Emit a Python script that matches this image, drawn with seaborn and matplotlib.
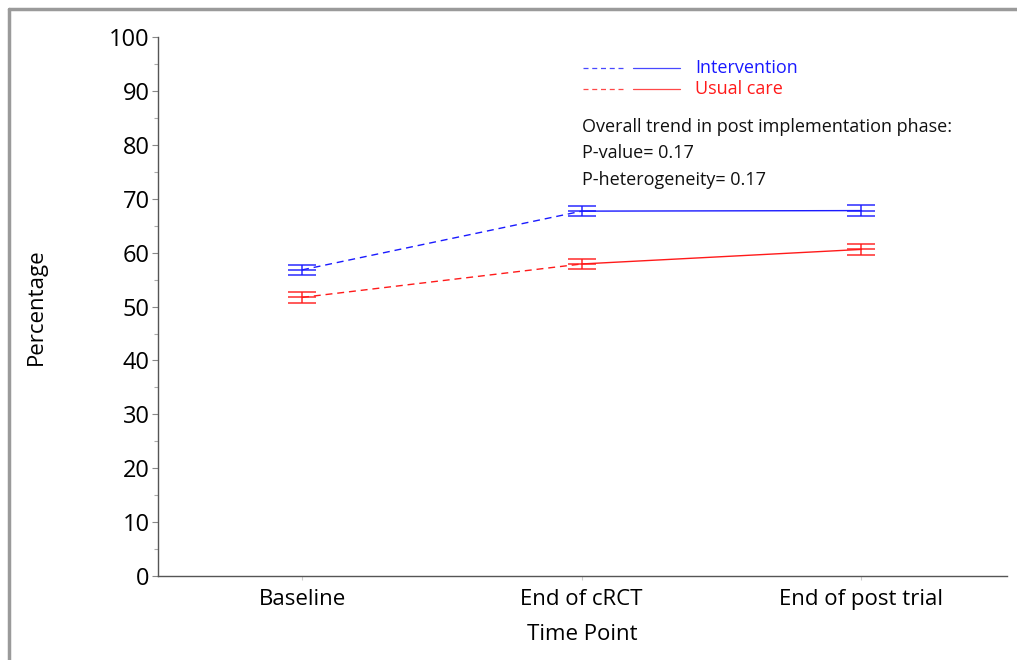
import matplotlib
matplotlib.use("Agg")
import matplotlib.pyplot as plt
from matplotlib.lines import Line2D
from matplotlib.ticker import MultipleLocator
import seaborn as sns
import pandas as pd

categories = ["Baseline", "End of cRCT", "End of post trial"]
intervention = [56.8, 67.7, 67.8]
intervention_err = [0.9, 0.95, 0.95]
usual_care = [51.7, 57.9, 60.6]
usual_care_err = [0.95, 0.95, 0.95]
yticks = [0, 10, 20, 30, 40, 50, 60, 70, 80, 90, 100]
annotation = ["Overall trend in post implementation phase:",
              "P-value= 0.17",
              "P-heterogeneity= 0.17"]

sns.set_theme(style="white")
plt.rcParams['font.family'] = ['Open Sans', 'DejaVu Sans']
plt.rcParams['text.color'] = 'black'
plt.rcParams['axes.labelcolor'] = 'black'
plt.rcParams['xtick.labelcolor'] = 'black'
plt.rcParams['ytick.labelcolor'] = 'black'

fig = plt.figure(figsize=(10.17, 6.6), dpi=100)
ax = fig.add_axes([0.1554, 0.127, 0.990 - 0.1554, 0.944 - 0.127])

blue = "#1a1aff"
red = "#ff1a1a"

rows = []
for name, vals in (("Intervention", intervention), ("Usual care", usual_care)):
    for i, v in enumerate(vals):
        rows.append({"series": name, "x": i, "y": v})
df = pd.DataFrame(rows)

for name, color, vals, errs in (("Intervention", blue, intervention, intervention_err),
                                ("Usual care", red, usual_care, usual_care_err)):
    d = df[df.series == name]
    seg1 = d[d.x <= 1]
    seg2 = d[d.x >= 1]
    sns.lineplot(data=seg1, x="x", y="y", ax=ax, color=color, lw=1.0,
                 linestyle=(0, (5, 3.5)), legend=False)
    sns.lineplot(data=seg2, x="x", y="y", ax=ax, color=color, lw=1.0,
                 legend=False)
    ax.errorbar(range(len(vals)), vals, yerr=errs, fmt='_', color=color,
                markersize=20, capsize=10, elinewidth=1.2, capthick=1.2,
                markeredgewidth=1.2, alpha=0.85)

ax.set_xlim(-0.515, 2.52)
ax.set_ylim(0, 100)
ax.set_xticks(range(len(categories)))
ax.set_xticklabels(categories)
ax.set_yticks(yticks)
ax.yaxis.set_minor_locator(MultipleLocator(5))
ax.tick_params(axis='y', which='major', length=4, width=0.8, color="#888888",
               labelsize=17, pad=2, left=True)
ax.tick_params(axis='y', which='minor', length=3, width=0.8, color="#aaaaaa", left=True)
ax.tick_params(axis='x', which='major', length=3, width=0.8, color="#cccccc",
               labelsize=16, pad=6, bottom=True)
for s in ("top", "right"):
    ax.spines[s].set_visible(False)
for s in ("left", "bottom"):
    ax.spines[s].set_color("#555555")
    ax.spines[s].set_linewidth(1.0)

ax.set_xlabel("Time Point", fontsize=16, labelpad=10)
ax.set_ylabel("Percentage", fontsize=16, labelpad=45)

# legend drawn as figure annotations
def fx(px):
    return px / 1017

def fy(py):
    return 1 - py / 660

for py, color, label in ((68, blue, "Intervention"), (89, red, "Usual care")):
    fig.add_artist(Line2D([fx(583), fx(625)], [fy(py), fy(py)], color=color,
                          lw=0.9, linestyle=(0, (4, 3)), alpha=0.8))
    fig.add_artist(Line2D([fx(633), fx(680)], [fy(py), fy(py)], color=color,
                          lw=0.9, alpha=0.8))
    fig.text(fx(695), fy(py), label, color=color, fontsize=13, va='center', ha='left')

for py, line in zip((127, 153, 180), annotation):
    fig.text(fx(582), fy(py), line, color="#111111", fontsize=13, va='center', ha='left')

# gray frame (top and left)
fig.add_artist(Line2D([fx(8.5), 1], [fy(8.5), fy(8.5)], color="#9a9a9a", lw=2.5))
fig.add_artist(Line2D([fx(8.5), fx(8.5)], [fy(8.5), 0], color="#9a9a9a", lw=2.5))

fig.savefig("out.png", dpi=100)
